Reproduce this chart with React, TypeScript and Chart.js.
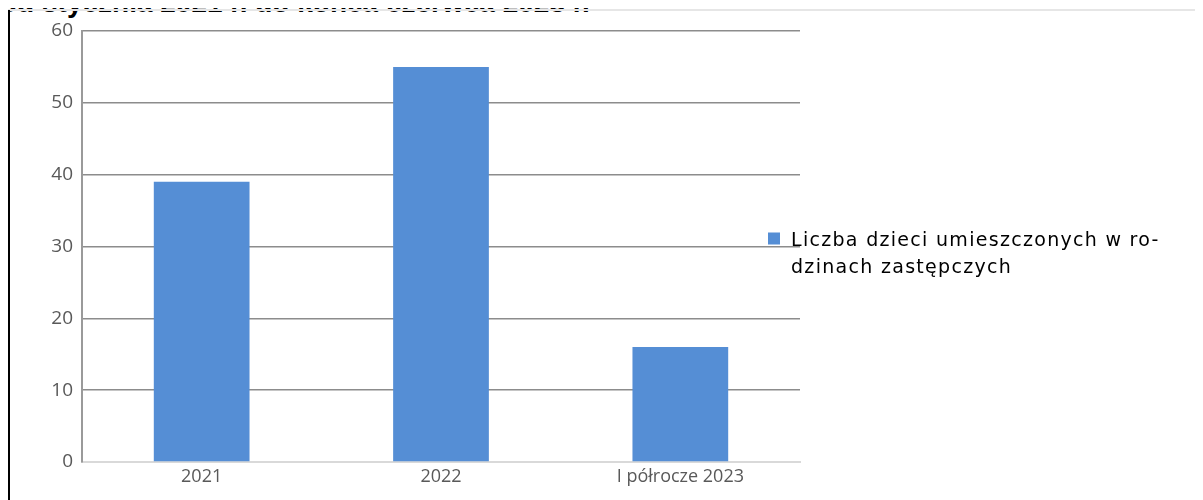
import React, { useEffect, useRef } from "react";
import { Chart, registerables } from "chart.js";

Chart.register(...registerables);

const categories = ["2021", "2022", "I półrocze 2023"];
const values = [39, 55, 16];
const seriesLabelLines = ["Liczba dzieci umieszczonych w ro-", "dzinach zastępczych"];
const seriesName = "Liczba dzieci umieszczonych w rodzinach zastępczych";
const titleText = "od stycznia 2021 r. do końca czerwca 2023 r.";
const yMin = 0;
const yMax = 60;
const yStep = 10;

const BAR_COLOR = "#558ED5";

const legendPlugin = {
  id: "sideLegend",
  afterDraw(chart: any) {
    const { ctx, chartArea } = chart;
    const x = chartArea.right - 32;
    const midY = (chartArea.top + chartArea.bottom) / 2;
    ctx.save();
    ctx.fillStyle = BAR_COLOR;
    ctx.fillRect(x, midY - 14, 12, 12);
    ctx.fillStyle = "#000000";
    ctx.font = "19px 'DejaVu Sans'";
    try {
      (ctx as any).letterSpacing = "1.3px";
    } catch (e) {}
    ctx.textBaseline = "alphabetic";
    ctx.textAlign = "left";
    seriesLabelLines.forEach((line, i) => {
      ctx.fillText(line, x + 23, midY - 1 + i * 27);
    });
    ctx.restore();
  },
};

export default function App() {
  const canvasRef = useRef<HTMLCanvasElement | null>(null);

  useEffect(() => {
    if (!canvasRef.current) return;
    const chart = new Chart(canvasRef.current, {
      type: "bar",
      data: {
        labels: categories,
        datasets: [
          {
            label: seriesName,
            data: values,
            backgroundColor: BAR_COLOR,
            borderWidth: 0,
            categoryPercentage: 1,
            barPercentage: 0.4,
          },
        ],
      },
      plugins: [legendPlugin],
      options: {
        responsive: false,
        animation: false,
        maintainAspectRatio: false,
        layout: { padding: { left: 0, right: 403, top: 23, bottom: 0 } },
        plugins: {
          legend: { display: false },
          tooltip: { enabled: false },
          title: { display: false },
        },
        scales: {
          x: {
            grid: { display: false, drawTicks: false },
            border: { display: true, color: "#d9d9d9", width: 2 },
            ticks: {
              color: "#595959",
              font: { family: "'Open Sans'", size: 18 },
              padding: 4,
              maxRotation: 0,
            },
            afterFit(scale: any) {
              scale.height = 38;
            },
          },
          y: {
            min: yMin,
            max: yMax,
            grid: {
              drawTicks: false,
              lineWidth: 1.5,
              color: (c: any) => (c.tick && c.tick.value === 0 ? "#d9d9d9" : "#8c8c8c"),
            },
            border: { display: true, color: "#9a9a9a", width: 2 },
            ticks: {
              stepSize: yStep,
              color: "#595959",
              font: { family: "'Open Sans'", size: 19 },
              padding: 9,
            },
            afterFit(scale: any) {
              scale.width = 74;
            },
          },
        },
      },
    });
    return () => chart.destroy();
  }, []);

  return (
    <div style={{ position: "relative", width: 1195, height: 492 }}>
      <div
        style={{
          position: "absolute",
          left: -8,
          top: -19,
          whiteSpace: "nowrap",
          fontFamily: "'Liberation Sans', Arial, sans-serif",
          fontWeight: "bold",
          fontSize: 28,
          lineHeight: "28px",
          color: "#000",
        }}
      >
        {titleText}
      </div>
      <div
        style={{
          position: "absolute",
          left: 0,
          top: 1,
          width: 1195,
          height: 2,
          background: "#e6e6e6",
        }}
      />
      <div
        style={{
          position: "absolute",
          left: 0,
          top: 2,
          width: 2,
          height: 490,
          background: "#000",
        }}
      />
      <canvas
        ref={canvasRef}
        width={1195}
        height={492}
        style={{ position: "absolute", left: 0, top: 0, display: "block" }}
      />
    </div>
  );
}
